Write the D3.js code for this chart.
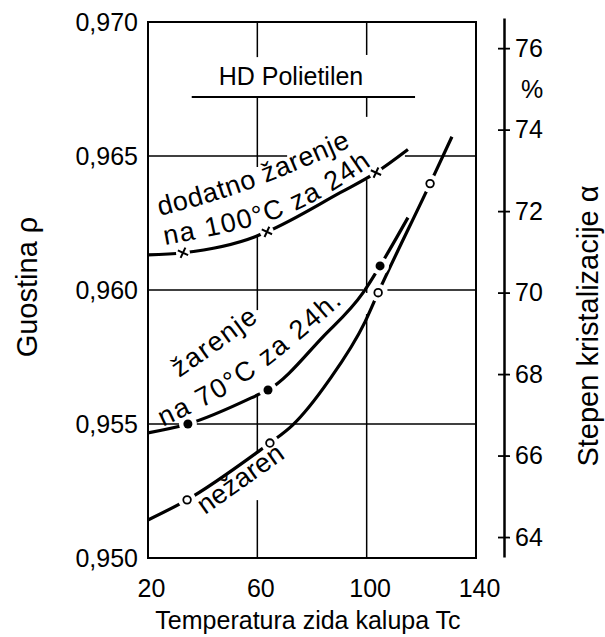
<!DOCTYPE html>
<html>
<head>
<meta charset="utf-8">
<script src="https://cdn.jsdelivr.net/npm/d3@7"></script>
<style>
  body { margin: 0; background: #fff; }
  svg { display: block; font-family: "Liberation Sans", Arial, sans-serif; }
</style>
</head>
<body>
<div id="chart"></div>
<script>
// axis ticks
const tempTicks = [20, 60, 100, 140];
const rhoTicks = [0.950, 0.955, 0.960, 0.965, 0.970];
const alphaTicks = [64, 66, 68, 70, 72, 74, 76];

// "dodatno zarenje na 100°C za 24h"
const annealed100T = [20, 32.8, 59.2, 63.5, 90.3, 103.4, 115.1];
const annealed100Rho = [0.96131, 0.96139, 0.96199, 0.96217, 0.96363, 0.96438, 0.96524];
const annealed100MarkT = [32.8, 63.5, 103.4];
const annealed100MarkRho = [0.96139, 0.96217, 0.96438];

// "zarenje na 70°C za 24h."
const annealed70T = [20, 34.6, 60.2, 63.9, 84, 98.7, 104.9, 115.1];
const annealed70Rho = [0.95467, 0.95500, 0.95609, 0.95627, 0.95825, 0.95990, 0.96090, 0.96270];
const annealed70MarkT = [34.6, 63.9, 104.9];
const annealed70MarkRho = [0.95500, 0.95627, 0.96090];

// "nezaren"
const plainT = [20, 34.3, 60.2, 64.6, 73, 86, 99.4, 104.2, 123.2, 131.2];
const plainRho = [0.95142, 0.95217, 0.95396, 0.95429, 0.95497, 0.95660, 0.95881, 0.95990, 0.96397, 0.96572];
const plainMarkT = [34.3, 64.6, 104.2, 123.2];
const plainMarkRho = [0.95217, 0.95429, 0.95990, 0.96397];

const width = 605, height = 637;
const black = "#000";
const font = "'Liberation Sans', Arial, sans-serif";

const x = d3.scaleLinear().domain([20, 140]).range([148, 476]);
const y = d3.scaleLinear().domain([0.950, 0.970]).range([558, 22]);
const yAlpha = d3.scaleLinear().domain([63.51, 76.74]).range([557, 18]);

const svg = d3.select("#chart")
  .append("svg")
  .attr("width", width)
  .attr("height", height);

// grid pieces (the original leaves gaps where labels and curves sit)
const vGrid = [
  [60, 0.970, 0.96869], [60, 0.96720, 0.96459], [60, 0.96199, 0.95925],
  [60, 0.95609, 0.95396], [60, 0.95216, 0.950],
  [100, 0.970, 0.96877], [100, 0.96720, 0.96646], [100, 0.96410, 0.95989],
  [100, 0.95910, 0.950]
];
const hGrid = [
  [0.965, 20, 70.9], [0.965, 114.0, 140],
  [0.960, 20, 98.7], [0.960, 107.6, 140],
  [0.955, 20, 140]
];

const grid = svg.append("g").attr("stroke", black).attr("stroke-width", 1.5);
grid.selectAll(".v").data(vGrid).join("line").attr("class", "v")
  .attr("x1", d => x(d[0])).attr("x2", d => x(d[0]))
  .attr("y1", d => y(d[1])).attr("y2", d => y(d[2]));
grid.selectAll(".h").data(hGrid).join("line").attr("class", "h")
  .attr("y1", d => y(d[0])).attr("y2", d => y(d[0]))
  .attr("x1", d => x(d[1])).attr("x2", d => x(d[2]));

// frame
svg.append("rect")
  .attr("x", x(20)).attr("y", y(0.970))
  .attr("width", x(140) - x(20)).attr("height", y(0.950) - y(0.970))
  .attr("fill", "none").attr("stroke", black).attr("stroke-width", 2);

// title with its underline
svg.append("line")
  .attr("x1", x(36)).attr("x2", x(117.7))
  .attr("y1", y(0.9672)).attr("y2", y(0.9672))
  .attr("stroke", black).attr("stroke-width", 2);
svg.append("text")
  .attr("x", 291).attr("y", 85)
  .attr("text-anchor", "middle")
  .attr("font-size", 25)
  .text("HD Polietilen");

// curves
const series = [
  { t: annealed100T, rho: annealed100Rho, mt: annealed100MarkT, mrho: annealed100MarkRho, marker: "cross" },
  { t: annealed70T, rho: annealed70Rho, mt: annealed70MarkT, mrho: annealed70MarkRho, marker: "dot" },
  { t: plainT, rho: plainRho, mt: plainMarkT, mrho: plainMarkRho, marker: "ring" }
];

const line = d3.line()
  .x(d => x(d[0]))
  .y(d => y(d[1]))
  .curve(d3.curveMonotoneX);

svg.append("g")
  .selectAll("path")
  .data(series)
  .join("path")
  .attr("d", s => line(d3.zip(s.t, s.rho)))
  .attr("fill", "none")
  .attr("stroke", black)
  .attr("stroke-width", 3.2);

// markers, each sitting in a small white gap of the curve
series.forEach(s => {
  const pts = d3.zip(s.mt, s.mrho);
  const g = svg.append("g");
  g.selectAll(".halo").data(pts).join("circle").attr("class", "halo")
    .attr("cx", d => x(d[0])).attr("cy", d => y(d[1]))
    .attr("r", s.marker === "cross" ? 7 : 9)
    .attr("fill", "#fff");
  if (s.marker === "dot") {
    g.selectAll(".m").data(pts).join("circle").attr("class", "m")
      .attr("cx", d => x(d[0])).attr("cy", d => y(d[1]))
      .attr("r", 4.5).attr("fill", black);
  } else if (s.marker === "ring") {
    g.selectAll(".m").data(pts).join("circle").attr("class", "m")
      .attr("cx", d => x(d[0])).attr("cy", d => y(d[1]))
      .attr("r", 3.8).attr("fill", "#fff")
      .attr("stroke", black).attr("stroke-width", 1.8);
  } else {
    g.selectAll(".m").data(pts).join("path").attr("class", "m")
      .attr("transform", d => `translate(${x(d[0])},${y(d[1])}) rotate(-20)`)
      .attr("d", "M-4,-4L4,4M-4,4L4,-4")
      .attr("stroke", black).attr("stroke-width", 2);
  }
});

// curve labels along paths
const curveLabels = [
  { text: "dodatno žarenje", spacing: 0.7, pts: [[24.4, 0.96276], [57.3, 0.96377], [95.7, 0.96541]] },
  { text: "na 100°C za 24h", spacing: 1.6, pts: [[26.2, 0.96168], [69.4, 0.96276], [103.0, 0.96474]] },
  { text: "žarenje", spacing: 1.6, pts: [[31.5, 0.95672], [46, 0.95777], [61, 0.95890]] },
  { text: "na 70°C za 24h.", spacing: 1.8, pts: [[25.5, 0.95490], [57.3, 0.95668], [92.1, 0.95960]] },
  { text: "nežaren", spacing: 0.3, pts: [[40.9, 0.95160], [71.2, 0.95381]] }
];

const labelLine = d3.line()
  .x(d => x(d[0]))
  .y(d => y(d[1]))
  .curve(d3.curveNatural);

const defs = svg.append("defs");
curveLabels.forEach((l, i) => {
  defs.append("path").attr("id", "lbl" + i).attr("d", labelLine(l.pts));
  svg.append("text")
    .attr("font-size", 27)
    .attr("letter-spacing", l.spacing)
    .append("textPath")
    .attr("href", "#lbl" + i)
    .text(l.text);
});

// left axis: density
const fmt = d3.formatLocale({ decimal: ",", thousands: ".", grouping: [3], currency: ["", ""] }).format(".3f");
const gLeft = svg.append("g")
  .attr("transform", `translate(${x(20)},0)`)
  .call(d3.axisLeft(y).tickValues(rhoTicks).tickFormat(fmt).tickSize(0).tickPadding(10));
gLeft.select(".domain").remove();
gLeft.attr("font-size", 25).attr("font-family", font);

// bottom axis: temperature
const gBottom = svg.append("g")
  .attr("transform", `translate(0,${y(0.950)})`)
  .call(d3.axisBottom(x).tickValues(tempTicks).tickSize(0).tickPadding(21));
gBottom.select(".domain").remove();
gBottom.attr("font-size", 25).attr("font-family", font);
gBottom.selectAll("text").attr("dx", 3);

// right axis: crystallinity
const gRight = svg.append("g")
  .attr("transform", "translate(504,0)")
  .call(d3.axisRight(yAlpha).tickValues(alphaTicks).tickSize(6).tickSizeOuter(0).tickPadding(5));
gRight.attr("font-size", 25).attr("font-family", font);
gRight.select(".domain").attr("stroke-width", 2.5);
gRight.selectAll(".tick line").attr("x1", -6).attr("stroke-width", 1.8);

svg.append("text")
  .attr("x", 532).attr("y", 98)
  .attr("text-anchor", "middle")
  .attr("font-size", 25)
  .text("%");

// axis titles
svg.append("text")
  .attr("transform", "translate(37,287) rotate(-90)")
  .attr("text-anchor", "middle")
  .attr("font-size", 29)
  .text("Guostina ρ");

svg.append("text")
  .attr("transform", "translate(598,326) rotate(-90)")
  .attr("text-anchor", "middle")
  .attr("font-size", 29)
  .text("Stepen kristalizacije α");

svg.append("text")
  .attr("x", 308).attr("y", 629)
  .attr("text-anchor", "middle")
  .attr("font-size", 25)
  .text("Temperatura zida kalupa Tc");
</script>
</body>
</html>
